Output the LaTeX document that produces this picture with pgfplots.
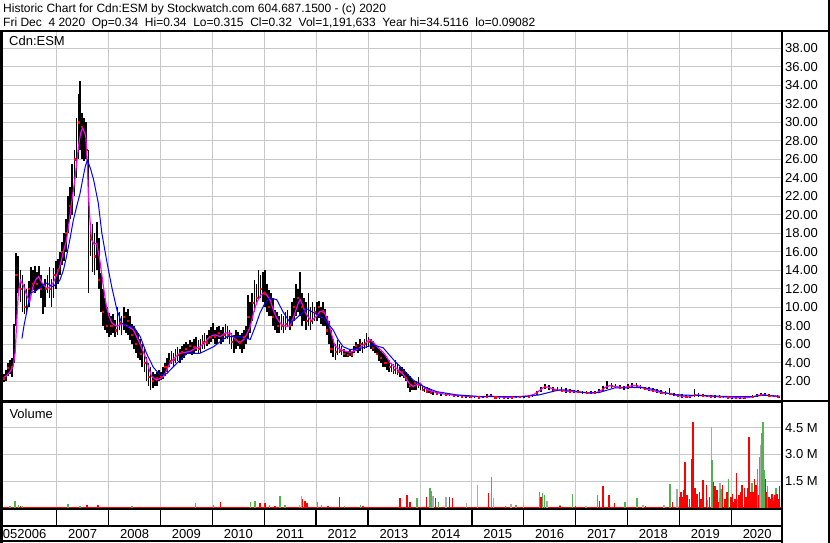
\documentclass[border=0pt]{standalone}
\usepackage{pgfplots}
\pgfplotsset{compat=1.18}
\usepackage{pgfplotstable}
\usepackage{fontspec}
\setmainfont{Liberation Sans}
\definecolor{gridgray}{RGB}{200,200,200}
\definecolor{volgreen}{RGB}{80,180,80}
\definecolor{volgray}{RGB}{170,170,170}
\definecolor{mag}{RGB}{255,0,255}
\definecolor{bl}{RGB}{0,0,255}
\newcommand{\fs}{\fontsize{13}{15}\selectfont}
\newcommand{\dsp}{\hspace*{6.67pt}}

\pgfplotstableread{
x hi lo cl
2005.98 2.8 1.9 2.3
2006.02 3.2 2.0 2.6
2006.06 4.0 2.5 3.4
2006.10 4.3 2.8 3.0
2006.14 4.5 2.4 3.5
2006.18 8.2 4.0 7.0
2006.22 15.8 8.0 13.5
2006.26 15.5 11.5 13.0
2006.30 14.0 10.5 12.0
2006.34 13.5 9.5 11.0
2006.38 12.5 9.3 10.0
2006.42 12.0 9.4 10.5
2006.46 12.8 10.0 12.0
2006.50 14.3 11.5 13.0
2006.54 14.0 11.8 12.5
2006.58 14.4 11.5 13.5
2006.62 13.8 11.8 12.5
2006.66 14.4 12.0 13.0
2006.70 13.5 11.0 12.0
2006.74 12.5 9.3 10.5
2006.78 13.0 10.0 12.0
2006.82 13.5 11.5 12.5
2006.86 14.3 11.0 12.0
2006.90 13.0 10.0 11.0
2006.94 14.2 11.0 13.5
2006.98 15.0 12.0 14.0
2007.02 15.2 12.5 14.0
2007.06 16.0 13.5 15.0
2007.10 17.0 14.5 16.0
2007.14 18.0 15.0 17.0
2007.18 19.5 16.0 18.0
2007.22 22.0 18.0 20.5
2007.26 23.0 19.5 21.0
2007.30 25.5 20.0 24.0
2007.34 27.0 22.0 26.0
2007.38 30.5 24.0 28.0
2007.42 33.0 26.0 30.0
2007.45 34.5 27.0 29.0
2007.49 31.0 26.0 29.5
2007.53 30.5 25.8 28.0
2007.57 30.0 26.0 27.0
2007.61 27.0 11.5 18.0
2007.65 19.0 15.5 17.5
2007.69 19.0 13.8 16.0
2007.73 18.0 13.5 15.5
2007.77 19.2 14.0 16.0
2007.81 17.5 12.0 13.0
2007.85 13.7 9.5 11.0
2007.89 12.0 8.0 9.5
2007.93 11.0 7.5 8.5
2007.97 10.0 7.2 8.0
2008.01 9.4 6.8 7.5
2008.05 9.0 7.0 8.0
2008.09 9.3 7.2 8.2
2008.13 8.6 6.8 7.5
2008.17 10.0 7.0 8.5
2008.21 9.5 7.5 8.3
2008.25 9.0 7.0 7.8
2008.29 10.0 7.5 9.0
2008.33 9.5 7.2 8.0
2008.37 9.8 7.0 8.5
2008.41 9.0 6.4 7.5
2008.45 8.2 6.0 7.0
2008.49 8.0 5.5 6.5
2008.53 7.5 5.0 6.0
2008.57 7.2 4.5 5.5
2008.61 6.5 4.3 5.0
2008.65 6.0 3.5 4.5
2008.69 5.5 3.0 4.0
2008.73 4.6 2.0 3.0
2008.77 4.0 1.5 2.5
2008.81 3.5 1.0 2.0
2008.85 3.0 1.2 2.0
2008.89 2.8 1.5 2.0
2008.93 3.0 1.5 2.4
2008.97 3.2 2.0 2.5
2009.01 3.0 2.1 2.5
2009.05 3.5 2.2 3.0
2009.09 4.0 2.5 3.5
2009.13 4.5 3.0 4.0
2009.17 5.0 3.5 4.2
2009.21 5.2 3.8 4.5
2009.25 5.0 3.6 4.3
2009.29 5.5 4.0 5.0
2009.33 5.7 4.2 4.8
2009.37 5.5 4.0 5.0
2009.41 5.8 4.3 5.2
2009.45 6.0 4.5 5.0
2009.49 6.2 4.8 5.5
2009.53 6.0 5.0 5.3
2009.57 6.4 5.0 5.8
2009.61 6.2 4.8 5.5
2009.65 6.5 5.0 5.7
2009.69 6.8 5.2 6.0
2009.73 6.4 5.0 5.5
2009.77 6.5 5.0 5.8
2009.81 7.0 5.5 6.2
2009.85 7.2 5.5 6.5
2009.89 7.0 5.8 6.2
2009.93 7.5 6.0 7.0
2009.97 7.8 6.2 6.8
2010.01 8.3 6.5 7.5
2010.05 7.5 6.0 6.8
2010.09 7.8 6.0 7.0
2010.13 8.0 6.5 7.2
2010.17 7.5 6.0 6.5
2010.21 7.8 6.2 7.0
2010.25 8.2 6.5 7.5
2010.29 8.0 6.5 7.0
2010.33 7.5 6.0 6.8
2010.37 7.2 5.5 6.3
2010.41 7.0 5.0 6.0
2010.45 7.5 5.5 6.5
2010.49 7.3 5.8 6.5
2010.53 7.0 5.5 6.2
2010.57 7.2 5.0 6.0
2010.61 7.5 5.5 6.8
2010.65 8.0 6.0 7.0
2010.69 11.3 6.5 9.0
2010.73 10.5 7.2 9.5
2010.77 11.5 8.5 10.5
2010.81 12.9 9.5 11.5
2010.85 12.5 10.5 11.0
2010.89 14.0 10.8 12.5
2010.93 13.5 11.0 12.0
2010.97 13.8 10.5 12.0
2011.01 14.0 10.0 11.5
2011.05 12.5 9.5 11.0
2011.09 11.8 9.0 10.0
2011.13 11.5 9.0 9.8
2011.17 11.0 8.0 9.0
2011.21 9.7 7.5 8.5
2011.25 9.5 7.2 8.0
2011.29 9.0 7.2 7.8
2011.33 9.3 7.5 8.0
2011.37 9.0 7.2 7.8
2011.41 9.5 7.5 8.2
2011.45 9.7 7.8 8.5
2011.49 9.0 7.5 8.0
2011.53 10.5 8.0 9.5
2011.57 11.0 8.5 10.0
2011.61 12.5 9.0 11.5
2011.65 12.0 9.5 11.0
2011.69 13.8 9.0 10.0
2011.73 11.5 8.0 10.0
2011.77 11.0 8.5 9.5
2011.81 10.5 7.5 8.5
2011.85 11.5 8.0 9.0
2011.89 10.0 7.5 8.5
2011.93 10.5 8.2 9.0
2011.97 10.0 8.5 9.5
2012.01 10.5 8.5 9.5
2012.05 10.7 8.8 10.0
2012.09 10.0 8.2 9.0
2012.13 10.5 8.0 9.5
2012.17 9.8 8.0 8.5
2012.21 9.0 7.0 7.5
2012.25 8.5 6.0 7.0
2012.29 7.5 5.0 5.5
2012.33 6.5 4.6 5.0
2012.37 6.0 4.3 5.2
2012.41 6.4 4.8 5.5
2012.45 6.0 5.0 5.3
2012.49 5.8 4.8 5.0
2012.53 5.5 4.6 5.0
2012.57 5.3 4.6 4.9
2012.61 5.3 4.6 4.8
2012.65 5.4 4.7 5.0
2012.69 5.2 4.6 4.9
2012.73 5.8 5.0 5.5
2012.77 6.2 5.2 5.8
2012.81 6.0 5.0 5.5
2012.85 6.5 5.3 6.0
2012.89 6.2 5.0 5.5
2012.93 6.5 5.5 6.0
2012.97 7.2 5.6 6.5
2013.01 6.8 5.8 6.3
2013.05 6.5 5.5 6.0
2013.09 6.3 5.2 5.6
2013.13 6.0 5.0 5.5
2013.17 5.8 4.8 5.0
2013.21 5.5 4.2 4.8
2013.25 5.2 4.0 4.5
2013.29 5.0 3.5 4.2
2013.33 4.8 3.5 4.0
2013.37 4.5 3.2 3.8
2013.41 4.3 3.0 3.5
2013.45 4.0 3.0 3.3
2013.49 3.8 2.8 3.2
2013.53 4.3 2.8 3.5
2013.57 3.8 2.6 3.0
2013.61 3.5 2.4 2.8
2013.65 3.5 2.5 3.0
2013.69 3.3 2.3 2.6
2013.73 3.0 2.0 2.4
2013.77 2.8 1.2 1.8
2013.81 2.5 0.8 1.5
2013.85 2.2 1.0 1.5
2013.89 2.0 1.0 1.8
2013.93 2.0 1.0 1.4
2013.97 2.4 1.2 1.6
2014.01 1.8 1.0 1.3
2014.05 1.6 0.9 1.1
2014.09 1.5 0.8 1.0
2014.13 1.3 0.7 0.9
2014.17 1.2 0.7 0.8
2014.21 1.0 0.6 0.75
2014.25 0.9 0.5 0.7
2014.33 0.8 0.45 0.6
2014.41 0.7 0.4 0.55
2014.49 0.65 0.35 0.5
2014.57 0.6 0.35 0.45
2014.65 0.55 0.3 0.4
2014.73 0.5 0.3 0.4
2014.81 0.45 0.25 0.35
2014.89 0.45 0.25 0.3
2014.97 0.4 0.2 0.3
2015.05 0.4 0.2 0.3
2015.13 0.35 0.15 0.25
2015.21 0.4 0.2 0.3
2015.29 0.6 0.25 0.35
2015.37 0.55 0.25 0.35
2015.45 0.35 0.15 0.25
2015.53 0.3 0.12 0.2
2015.61 0.3 0.12 0.2
2015.69 0.3 0.12 0.2
2015.77 0.35 0.15 0.25
2015.85 0.35 0.15 0.25
2015.93 0.4 0.2 0.3
2016.01 0.4 0.2 0.3
2016.09 0.45 0.25 0.35
2016.17 0.6 0.3 0.45
2016.25 0.9 0.45 0.7
2016.33 1.3 0.8 1.1
2016.41 1.7 1.1 1.4
2016.49 1.6 1.0 1.3
2016.57 1.4 0.9 1.1
2016.65 1.3 0.9 1.0
2016.73 1.3 0.8 1.0
2016.81 1.2 0.75 0.9
2016.89 1.1 0.7 0.9
2016.97 1.0 0.7 0.85
2017.05 1.0 0.65 0.8
2017.13 0.95 0.6 0.75
2017.21 0.9 0.6 0.7
2017.29 0.9 0.55 0.7
2017.37 0.95 0.6 0.75
2017.45 1.1 0.7 0.9
2017.53 1.5 0.9 1.2
2017.61 2.0 1.1 1.5
2017.69 1.8 1.2 1.5
2017.77 1.7 1.2 1.4
2017.85 1.6 1.1 1.3
2017.93 1.5 1.0 1.25
2018.01 1.7 1.1 1.4
2018.09 1.8 1.2 1.5
2018.17 1.75 1.2 1.5
2018.25 1.6 1.1 1.35
2018.33 1.4 1.0 1.2
2018.41 1.3 0.9 1.05
2018.49 1.2 0.8 0.95
2018.57 1.1 0.7 0.85
2018.65 1.0 0.6 0.75
2018.73 0.9 0.5 0.65
2018.81 1.25 0.45 0.6
2018.89 0.7 0.35 0.5
2018.97 0.6 0.3 0.4
2019.05 0.55 0.2 0.35
2019.13 0.5 0.15 0.3
2019.21 0.5 0.15 0.3
2019.29 1.1 0.3 0.55
2019.37 0.7 0.3 0.45
2019.45 0.55 0.25 0.4
2019.53 0.5 0.25 0.35
2019.61 0.5 0.2 0.35
2019.69 0.45 0.2 0.3
2019.77 0.45 0.2 0.3
2019.85 0.4 0.15 0.25
2019.93 0.4 0.15 0.25
2020.01 0.3 0.1 0.2
2020.09 0.3 0.1 0.2
2020.17 0.25 0.09 0.15
2020.25 0.3 0.1 0.2
2020.33 0.35 0.15 0.25
2020.41 0.45 0.2 0.3
2020.49 0.6 0.3 0.45
2020.57 0.7 0.35 0.55
2020.65 0.65 0.35 0.5
2020.73 0.55 0.3 0.4
2020.81 0.5 0.25 0.35
2020.89 0.45 0.25 0.35
2020.93 0.34 0.315 0.32
}\price

\begin{document}
\begin{tikzpicture}
\useasboundingbox (0pt,0pt) rectangle (830pt,543pt);
\fill[white] (0pt,0pt) rectangle (830pt,543pt);

% ---------- price panel ----------
\begin{axis}[
  at={(3pt,512pt)}, anchor=north west, scale only axis,
  width=778.7pt, height=370pt,
  xmin=2005.965, xmax=2020.971, ymin=-0.162, ymax=39.87,
  axis line style={draw=none}, major tick length=0pt,
  xtick={2007,2008,...,2020}, xticklabels={},
  ytick={2,4,...,38},
  yticklabel pos=right,
  yticklabel={\pgfmathprintnumber[fixed,fixed zerofill,precision=2,assume math mode=true]{\tick}},
  yticklabel style={font=\fs, anchor=west},
  grid=major, major grid style={line width=0.8pt, gridgray},
]
\addplot[draw=none, mark=none, forget plot,
  error bars/.cd, y dir=both, y explicit, error mark=none,
  error bar style={draw=black, solid, line width=1.7pt}]
  table[x=x, y=cl, y error plus expr=\thisrow{hi}-\thisrow{cl}, y error minus expr=\thisrow{cl}-\thisrow{lo}] {\price};
\addplot[only marks, mark=square*, mark size=0.55pt, red, each nth point=2] table[x=x, y=cl] {\price};
\addplot[mag, line width=1.2pt] coordinates {
(2005.98,2.4) (2006.04,2.6) (2006.10,3.0) (2006.16,3.6) (2006.20,5.1) (2006.23,8.5) (2006.26,11.5) (2006.30,12.9) (2006.36,12.3) (2006.42,11.3) (2006.48,10.6) (2006.55,12.4) (2006.60,13.0) (2006.65,13.3) (2006.72,12.6) (2006.81,12.0) (2006.87,12.2) (2006.93,12.6) (2007.00,13.5) (2007.06,14.4) (2007.12,15.8) (2007.19,17.3) (2007.24,19.2) (2007.28,21.0) (2007.35,23.8) (2007.42,27.4) (2007.46,28.8) (2007.50,29.4) (2007.56,28.5) (2007.59,25.5) (2007.61,22.3) (2007.64,19.5) (2007.67,17.3) (2007.72,16.8) (2007.77,16.9) (2007.83,15.1) (2007.90,12.2) (2007.96,10.0) (2008.01,9.0) (2008.06,8.3) (2008.16,7.9) (2008.26,8.2) (2008.38,7.9) (2008.48,7.5) (2008.60,6.1) (2008.73,4.3) (2008.78,3.3) (2008.83,2.5) (2008.92,2.1) (2009.00,2.3) (2009.06,2.5) (2009.12,3.2) (2009.18,3.9) (2009.27,4.5) (2009.37,5.0) (2009.47,5.1) (2009.57,5.2) (2009.66,5.5) (2009.76,5.7) (2009.86,6.2) (2009.95,6.8) (2010.05,7.0) (2010.15,6.8) (2010.25,7.2) (2010.34,7.2) (2010.44,6.5) (2010.53,6.1) (2010.62,6.6) (2010.70,7.5) (2010.73,7.9) (2010.79,9.3) (2010.85,10.4) (2010.93,11.3) (2011.01,11.6) (2011.11,10.8) (2011.18,9.6) (2011.24,8.8) (2011.33,8.1) (2011.43,7.9) (2011.50,8.0) (2011.57,9.0) (2011.64,10.2) (2011.69,10.8) (2011.74,10.2) (2011.79,9.4) (2011.85,8.9) (2011.91,8.5) (2012.00,9.0) (2012.07,9.5) (2012.14,9.6) (2012.19,9.0) (2012.23,8.5) (2012.30,7.0) (2012.36,5.8) (2012.44,5.5) (2012.52,5.3) (2012.65,5.1) (2012.75,5.3) (2012.84,5.6) (2012.95,6.1) (2013.03,6.5) (2013.10,6.2) (2013.16,5.8) (2013.29,5.1) (2013.36,4.6) (2013.42,4.0) (2013.52,3.5) (2013.62,3.0) (2013.68,2.7) (2013.74,2.2) (2013.80,1.7) (2013.87,1.4) (2013.94,1.6) (2014.00,1.8) (2014.06,1.4) (2014.13,1.1) (2014.22,0.9) (2014.32,0.75) (2014.50,0.55) (2014.70,0.45) (2014.83,0.4) (2015.00,0.32) (2015.22,0.3) (2015.35,0.38) (2015.50,0.28) (2015.70,0.22) (2015.85,0.28) (2015.99,0.35) (2016.10,0.4) (2016.20,0.55) (2016.30,0.95) (2016.38,1.3) (2016.46,1.35) (2016.56,1.15) (2016.66,1.0) (2016.80,0.92) (2016.95,0.85) (2017.10,0.78) (2017.25,0.7) (2017.40,0.75) (2017.50,1.0) (2017.58,1.35) (2017.66,1.5) (2017.75,1.42) (2017.90,1.3) (2018.00,1.38) (2018.10,1.5) (2018.20,1.48) (2018.30,1.25) (2018.40,1.08) (2018.50,0.95) (2018.60,0.82) (2018.70,0.7) (2018.82,0.62) (2018.92,0.48) (2019.05,0.36) (2019.18,0.3) (2019.28,0.45) (2019.36,0.5) (2019.48,0.4) (2019.60,0.35) (2019.75,0.3) (2019.90,0.26) (2020.05,0.2) (2020.20,0.17) (2020.32,0.22) (2020.42,0.3) (2020.52,0.45) (2020.60,0.52) (2020.70,0.45) (2020.80,0.37) (2020.93,0.33)};
\addplot[bl, line width=1pt] coordinates {
(2006.33,6.6) (2006.37,8.0) (2006.42,9.4) (2006.49,11.5) (2006.61,11.8) (2006.71,12.3) (2006.81,12.6) (2006.93,12.2) (2007.06,12.9) (2007.13,14.0) (2007.19,15.5) (2007.26,17.5) (2007.32,19.4) (2007.39,21.0) (2007.45,22.3) (2007.50,23.8) (2007.55,25.2) (2007.59,25.9) (2007.65,25.0) (2007.71,23.8) (2007.80,21.3) (2007.87,18.0) (2007.96,15.1) (2008.06,12.2) (2008.16,9.7) (2008.25,8.3) (2008.35,7.9) (2008.48,7.9) (2008.61,6.8) (2008.73,5.0) (2008.86,3.5) (2008.99,2.65) (2009.12,2.8) (2009.31,3.9) (2009.51,5.0) (2009.76,5.0) (2010.02,5.7) (2010.28,6.8) (2010.53,6.8) (2010.73,6.5) (2010.82,7.8) (2010.92,9.4) (2011.01,10.4) (2011.11,11.0) (2011.24,10.8) (2011.37,9.4) (2011.50,8.3) (2011.58,8.6) (2011.66,9.0) (2011.82,9.8) (2011.95,9.4) (2012.14,8.8) (2012.33,7.5) (2012.42,6.5) (2012.52,5.7) (2012.65,5.4) (2012.91,5.6) (2013.10,5.9) (2013.29,5.6) (2013.49,4.3) (2013.68,3.2) (2013.87,2.1) (2014.07,1.4) (2014.32,0.85) (2014.71,0.5) (2015.22,0.3) (2015.99,0.3) (2016.30,0.5) (2016.51,0.8) (2016.70,1.05) (2016.90,1.0) (2017.10,0.8) (2017.30,0.7) (2017.45,0.75) (2017.60,1.0) (2017.75,1.25) (2017.95,1.25) (2018.10,1.3) (2018.30,1.28) (2018.50,1.1) (2018.70,0.75) (2018.95,0.5) (2019.25,0.45) (2019.55,0.4) (2019.80,0.35) (2020.10,0.3) (2020.40,0.3) (2020.60,0.45) (2020.75,0.42) (2020.93,0.35)};
\end{axis}

% ---------- volume panel ----------
\begin{axis}[
  at={(3pt,140pt)}, anchor=north west, scale only axis,
  width=778.7pt, height=106.5pt,
  xmin=2005.965, xmax=2020.971, ymin=-0.1, ymax=5.9,
  axis line style={draw=none}, major tick length=0pt,
  xtick={2007,2008,...,2020}, xticklabels={},
  ytick={1.5,3,4.5}, yticklabels={1.5 M,3.0 M,4.5 M},
  yticklabel pos=right,
  yticklabel style={font=\fs, anchor=west},
  grid=major, major grid style={line width=0.8pt, gridgray},
]
\addplot[red, line width=1.2pt] coordinates {(2005.97,0.03) (2020.97,0.03)};
\addplot[ycomb, volgray, line width=1.5pt, mark=none] coordinates {
(2011.68,0.15) (2011.72,0.66) (2014.25,0.66) (2014.50,0.6) (2014.90,0.28) (2015.11,1.28) (2015.42,0.53) (2015.75,0.2) (2016.00,0.25) (2016.45,0.4) (2016.70,0.15) (2017.20,0.1) (2018.30,0.15) (2018.70,0.15) (2018.95,1.05) (2019.28,1.09) (2019.615,4.53) (2019.78,1.4) (2020.20,0.3) (2020.56,3.53)};
\addplot[ycomb, volgreen, line width=1.5pt, mark=none] coordinates {
(2006.10,0.12) (2006.20,0.38) (2006.26,0.15) (2006.34,0.12) (2007.22,0.2) (2007.45,0.1) (2008.45,0.08) (2009.67,0.25) (2010.02,0.15) (2010.73,0.3) (2010.82,0.38) (2011.10,0.15) (2011.30,0.66) (2011.40,0.15) (2011.80,0.1) (2012.03,0.35) (2012.10,0.15) (2012.55,0.1) (2012.85,0.15) (2013.94,0.55) (2014.19,1.09) (2014.22,0.95) (2014.36,0.3) (2015.38,1.71) (2015.65,0.12) (2015.85,0.15) (2016.30,0.9) (2016.36,0.81) (2016.40,0.72) (2016.94,0.77) (2017.42,0.72) (2017.95,0.35) (2018.18,0.53) (2018.82,1.33) (2019.05,0.4) (2019.29,0.4) (2019.35,0.62) (2019.53,0.45) (2019.625,2.7) (2019.77,0.55) (2019.80,1.05) (2019.95,1.6) (2020.12,0.5) (2020.33,1.2) (2020.40,1.4) (2020.50,2.2) (2020.54,2.87) (2020.58,4.19) (2020.61,4.85) (2020.64,2.1) (2020.70,1.2) (2020.80,0.6) (2020.86,1.09)};
\addplot[ycomb, red, line width=1.5pt, mark=none] coordinates {
(2006.30,0.08) (2007.58,0.13) (2007.80,0.13) (2008.80,0.06) (2009.40,0.06) (2010.16,0.3) (2010.92,0.25) (2011.01,0.28) (2011.21,0.12) (2011.74,0.47) (2011.78,0.38) (2011.82,0.25) (2012.23,0.12) (2012.45,0.62) (2012.90,0.1) (2013.62,0.55) (2013.75,0.7) (2013.81,0.3) (2014.13,0.62) (2014.30,0.53) (2014.57,0.6) (2014.63,0.53) (2015.32,0.81) (2016.33,0.62) (2016.70,0.12) (2017.00,0.12) (2017.46,0.4) (2017.53,1.22) (2017.64,0.72) (2017.75,0.25) (2018.35,0.08) (2018.87,0.3) (2019.00,0.62) (2019.03,0.9) (2019.05,0.62) (2019.08,1.0) (2019.11,2.59) (2019.15,0.7) (2019.19,0.5) (2019.24,2.74) (2019.26,4.81) (2019.30,1.1) (2019.34,0.8) (2019.39,0.9) (2019.42,0.5) (2019.45,1.56) (2019.52,1.28) (2019.58,0.6) (2019.66,1.47) (2019.69,1.2) (2019.72,1.0) (2019.75,0.3) (2019.83,1.28) (2019.88,0.5) (2019.92,0.9) (2019.99,0.62) (2020.02,0.8) (2020.05,0.3) (2020.07,0.5) (2020.10,1.94) (2020.15,0.7) (2020.18,0.9) (2020.21,1.28) (2020.25,1.1) (2020.28,0.62) (2020.31,1.1) (2020.34,4.0) (2020.38,0.9) (2020.42,0.9) (2020.45,1.6) (2020.48,1.3) (2020.52,0.7) (2020.66,1.6) (2020.68,0.9) (2020.73,0.62) (2020.76,0.5) (2020.78,0.8) (2020.82,0.4) (2020.84,0.7) (2020.88,0.8) (2020.90,0.5) (2020.93,1.2)};
\end{axis}

% ---------- frame ----------
\draw[black, line width=2pt] (0pt,512pt) -- (830pt,512pt);
\draw[black, line width=3pt] (1.5pt,512pt) -- (1.5pt,0pt);
\draw[black, line width=2pt] (828.5pt,543pt) -- (828.5pt,0pt);
\draw[black, line width=2pt] (781.7pt,512pt) -- (781.7pt,0pt);
\draw[black, line width=2pt] (0pt,142pt) -- (830pt,142pt);
\draw[black, line width=1pt] (0pt,140pt) -- (781.7pt,140pt);
\draw[black, line width=2pt] (0pt,33.5pt) -- (781.7pt,33.5pt);
\draw[black, line width=2pt] (0pt,16.5pt) -- (781.7pt,16.5pt);
\draw[black, line width=2pt] (0pt,1.5pt) -- (781.7pt,1.5pt);
\foreach \yr in {2007,...,2020} {
  \pgfmathsetmacro{\xx}{4.8+(\yr-2006)*51.89}
  \draw[black, line width=1.5pt] (\xx pt,33.5pt) -- (\xx pt,16.5pt);
  \pgfmathsetmacro{\xc}{\xx+25.95}
  \pgfmathtruncatemacro{\yy}{\yr}
  \node[font=\fs, anchor=base, inner sep=0pt] at (\xc pt,4pt) {\yy};
}
\node[font=\fs, anchor=base west, inner sep=0pt] at (2.7pt,4pt) {052006};

% ---------- texts ----------
\node[font=\fontsize{12}{14}\selectfont, anchor=base west, inner sep=0pt] at (3pt,530.3pt)
  {Historic Chart for Cdn:ESM by Stockwatch.com 604.687.1500 - (c) 2020};
\node[font=\fontsize{12}{14}\selectfont, anchor=base west, inner sep=0pt] at (3pt,516.3pt)
  {Fri Dec\dsp4 2020\dsp Op=0.34\dsp Hi=0.34\dsp Lo=0.315\dsp Cl=0.32\dsp Vol=1,191,633\dsp Year hi=34.5116\dsp lo=0.09082};
\node[font=\fs, anchor=base west, inner sep=0pt] at (9pt,497pt) {Cdn:ESM};
\node[font=\fs, anchor=base west, inner sep=0pt] at (9.3pt,124.7pt) {Volume};
\end{tikzpicture}
\end{document}
